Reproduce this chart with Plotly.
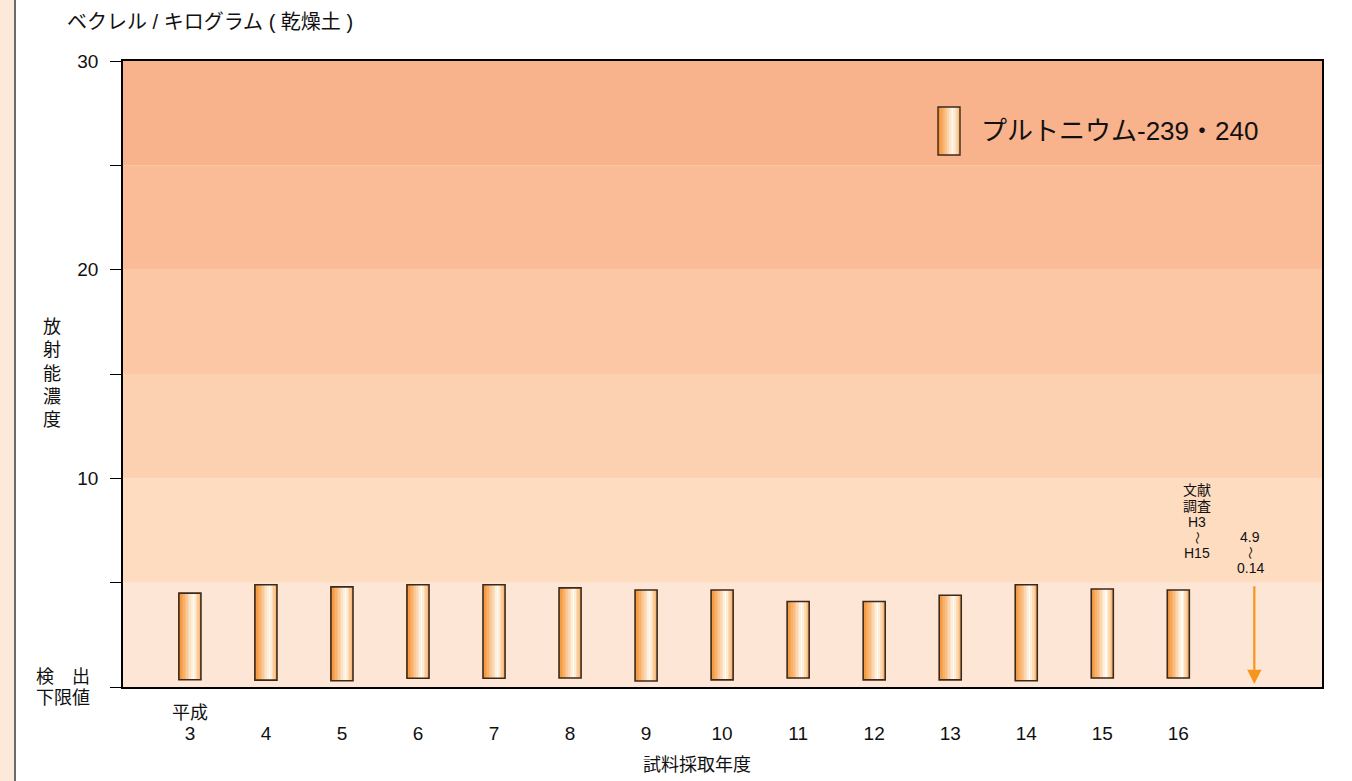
import plotly.graph_objects as go

# Sampling fiscal years (Heisei era) and Pu-239/240 concentration range per year
years = ["3", "4", "5", "6", "7", "8", "9", "10", "11", "12", "13", "14", "15", "16"]
pu_max = [4.5, 4.9, 4.8, 4.9, 4.9, 4.75, 4.65, 4.65, 4.1, 4.1, 4.4, 4.9, 4.7, 4.65]
pu_min = [0.35, 0.33, 0.30, 0.42, 0.42, 0.43, 0.29, 0.34, 0.43, 0.34, 0.34, 0.30, 0.43, 0.43]

# Literature survey range (H3 - H15)
lit_max = 4.9
lit_min = 0.14

y_ticks = [0, 5, 10, 15, 20, 25, 30]
y_ticktext = ["", "", "10", "", "20", "", "30"]

band_edges = [0, 5, 10, 15, 20, 25, 30]
band_colors = ["#fde6d5", "#fddcc0", "#fcd1b2", "#fbc7a5", "#fabc97", "#f9b38c"]

W, H = 1352, 781
L, R, T, B = 123, 30, 61, 94
plot_w = W - L - R
FONT = "Liberation Sans, Noto Sans CJK JP, Arial, sans-serif"
TXT = "#111111"

xs = list(range(len(years)))
lit_x = len(years)
bar_w = 0.29

# horizontal gradient for the cylinder-like bars
stops = [(0.0, (242, 138, 38)), (0.3, (249, 185, 120)), (0.68, (255, 252, 245)), (1.0, (248, 178, 105))]


def grad(t):
    for (t0, c0), (t1, c1) in zip(stops[:-1], stops[1:]):
        if t0 <= t <= t1:
            f = (t - t0) / (t1 - t0)
            return "rgb(%d,%d,%d)" % tuple(round(a + (b - a) * f) for a, b in zip(c0, c1))
    return "rgb(%d,%d,%d)" % stops[-1][1]


N = 14
heights = [hi - lo for hi, lo in zip(pu_max, pu_min)]
fig = go.Figure()
for i in range(N):
    fig.add_trace(go.Bar(
        x=xs, y=heights, base=pu_min,
        width=bar_w / N * 1.08, offset=-bar_w / 2 + i * bar_w / N,
        marker=dict(color=grad((i + 0.5) / N), line=dict(width=0)),
        showlegend=False, hoverinfo="skip",
    ))
# outline
fig.add_trace(go.Bar(
    x=xs, y=heights, base=pu_min, width=bar_w,
    marker=dict(color="rgba(0,0,0,0)", line=dict(color="#3b2a1c", width=1.6)),
    showlegend=False, hovertemplate="%{base:.2f}–%{y:.2f}<extra></extra>",
))

fig.update_layout(barmode="overlay")

shapes = []
# background concentration bands
for (lo, hi), c in zip(zip(band_edges[:-1], band_edges[1:]), band_colors):
    shapes.append(dict(type="rect", xref="paper", yref="y", x0=0, x1=1, y0=lo, y1=hi,
                       fillcolor=c, line=dict(width=0), layer="below"))


def px_x(p):
    return (p - L) / plot_w


def px_y(p):
    return (H - B - p) / (H - T - B)


# page strip on the left edge
shapes.append(dict(type="rect", xref="paper", yref="paper", x0=px_x(0), x1=px_x(14),
                   y0=px_y(H), y1=px_y(0), fillcolor="#fde9d9", line=dict(width=0), layer="below"))
shapes.append(dict(type="line", xref="paper", yref="paper", x0=px_x(15), x1=px_x(15),
                   y0=px_y(H), y1=px_y(0), line=dict(color="#6b6b6b", width=2)))

# legend swatch
lx0, lx1, ly0, ly1 = 938, 960, 107, 155
M = 10
for i in range(M):
    shapes.append(dict(type="rect", xref="paper", yref="paper",
                       x0=px_x(lx0 + (lx1 - lx0) * i / M), x1=px_x(lx0 + (lx1 - lx0) * (i + 1) / M + 0.3),
                       y0=px_y(ly1), y1=px_y(ly0), fillcolor=grad((i + 0.5) / M), line=dict(width=0)))
shapes.append(dict(type="rect", xref="paper", yref="paper", x0=px_x(lx0), x1=px_x(lx1),
                   y0=px_y(ly1), y1=px_y(ly0), fillcolor="rgba(0,0,0,0)",
                   line=dict(color="#3b2a1c", width=1.4)))

ann = []


def text(x, y, s, size=18, xanchor="center", yanchor="middle", align="center", angle=0):
    ann.append(dict(xref="paper", yref="paper", x=px_x(x), y=px_y(y), text=s, showarrow=False,
                    xanchor=xanchor, yanchor=yanchor, align=align, textangle=angle,
                    font=dict(family=FONT, size=size, color=TXT)))


text(65, 22, "ベクレル / キログラム ( 乾燥土 )", size=20, xanchor="left")
for k, ch in enumerate("放射能濃度"):
    text(52, 327 + k * 23.3, ch, size=18)
text(34, 677, "検　出", size=18, xanchor="left")
text(34, 698, "下限値", size=18, xanchor="left")
text(190, 713, "平成", size=18)
text(697, 765, "試料採取年度", size=18)
text(979, 131, "プルトニウム-239・240", size=26, xanchor="left")

# literature survey note
for s, yy in [("文献", 490), ("調査", 506), ("H3", 522), ("H15", 553)]:
    text(1197, yy, s, size=14)
text(1197, 537.5, "〜", size=13, angle=90)
for s, yy in [("4.9", 537), ("0.14", 568)]:
    text(1250, yy, s, size=14)
text(1250, 552.5, "〜", size=13, angle=90)

# literature survey range arrow
ann.append(dict(x=lit_x, y=lit_min, ax=lit_x, ay=lit_max, xref="x", yref="y", axref="x", ayref="y",
                text="", showarrow=True, arrowhead=2, arrowsize=1.3, arrowwidth=2.2,
                arrowcolor="#f7941d"))

fig.update_layout(
    width=W, height=H,
    margin=dict(l=L, r=R, t=T, b=B),
    paper_bgcolor="white", plot_bgcolor="white",
    shapes=shapes, annotations=ann,
    font=dict(family=FONT, size=18, color=TXT),
    showlegend=False,
    xaxis=dict(
        range=[-0.88, 14.89], tickmode="array", tickvals=xs, ticktext=years,
        ticks="", showgrid=False, zeroline=False, showline=True, linecolor="black",
        linewidth=1.5, mirror=True, ticklabelstandoff=28,
        tickfont=dict(family=FONT, size=19, color=TXT), fixedrange=True,
    ),
    yaxis=dict(
        range=[0, 30], tickmode="array", tickvals=y_ticks, ticktext=y_ticktext,
        ticks="outside", ticklen=11, tickwidth=1, tickcolor="black",
        showgrid=False, zeroline=False, showline=True, linecolor="black",
        linewidth=1.5, mirror=True, ticklabelstandoff=8,
        tickfont=dict(family=FONT, size=19, color=TXT), fixedrange=True,
    ),
)

fig.write_html("out.html")
